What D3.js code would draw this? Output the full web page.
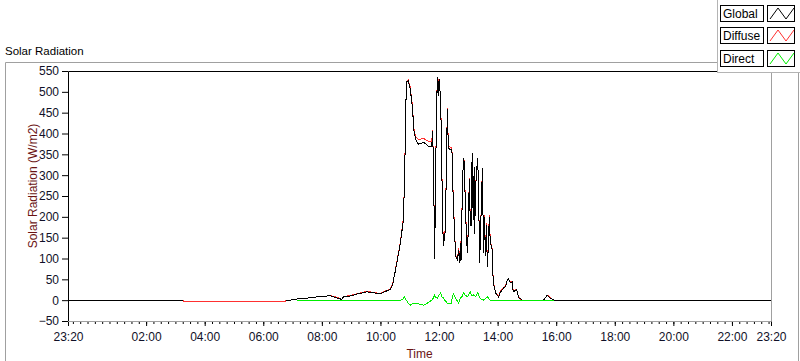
<!DOCTYPE html>
<html>
<head>
<meta charset="utf-8">
<script src="https://cdn.jsdelivr.net/npm/d3@7"></script>
<style>
  body { margin: 0; background: #fff; }
  text { font-family: "Liberation Sans", Arial, sans-serif; }
</style>
</head>
<body>
<div id="chart"></div>
<script>
// time stamps shared by Global and Diffuse ("day hour:minute")
var times = [
  "01 23:20","02 03:16","02 03:17","02 06:46","02 06:47","02 06:55","02 07:02","02 07:30","02 07:43","02 07:51",
  "02 08:11","02 08:13","02 08:17","02 08:24","02 08:38","02 08:40","02 08:44","02 08:58","02 09:13","02 09:33",
  "02 10:00","02 10:14","02 10:20","02 10:25","02 10:27","02 10:31","02 10:41","02 10:47","02 10:49","02 10:51",
  "02 10:53","02 10:57","02 11:01","02 11:06","02 11:08","02 11:12","02 11:18","02 11:28","02 11:38","02 11:45",
  "02 11:47","02 11:49","02 11:51","02 11:55","02 11:57","02 11:58","02 11:59","02 12:00","02 12:01","02 12:03",
  "02 12:05","02 12:07","02 12:09","02 12:13","02 12:17","02 12:19","02 12:21","02 12:25","02 12:27","02 12:29",
  "02 12:34","02 12:38","02 12:40","02 12:42","02 12:44","02 12:45","02 12:46","02 12:48","02 12:50","02 12:52","02 12:54","02 12:58",
  "02 13:00","02 13:02","02 13:03","02 13:04","02 13:06","02 13:07","02 13:08","02 13:10","02 13:12","02 13:13","02 13:15","02 13:19","02 13:21","02 13:23",
  "02 13:25","02 13:27","02 13:29","02 13:31","02 13:33","02 13:35","02 13:37","02 13:39","02 13:41","02 13:43","02 13:45","02 13:49","02 13:51","02 13:56",
  "02 14:02","02 14:06","02 14:10","02 14:12","02 14:16","02 14:20","02 14:22","02 14:26","02 14:30","02 14:32",
  "02 14:39","02 14:43","02 14:51","02 15:34","02 15:42","02 15:48","02 15:55","02 23:20"
];
var globalValues = [
  0, 0, null, null, 0, 0, 2, 5, 7, 8,
  10, 12, 11, 8, 3, 0, 8, 10, 15, 20,
  15, 23, 25, 37, 50, 73, 138, 193, 273, 386,
  524, 526, 507, 458, 410, 386, 374, 379, 370, 369,
  405, 297, 100, 476, 535, 495, 490, 528, 531, 475,
  394, 201, 129, 169, 458, 369, 362, 362, 350, 242,
  105, 97, 121, 89, 138, 95, 150, 273, 342, 330, 217, 113,
  169, 290, 240, 186, 177, 300, 354, 193, 320, 160, 273, 342, 273, 89,
  153, 250, 317, 113, 200, 105, 180, 80, 129, 200, 138, 121, 42, 17,
  8, 20, 25, 30, 32, 49, 51, 42, 44, 20,
  25, 6, 0, 0, 12, 5, 0, 0
];
var diffuseValues = [
  0, 0, -2, -2, 0, 0, 2, 5, 7, 8,
  10, 12, 11, 9, 4, 1, 9, 11, 16, 21,
  16, 24, 26, 40, 52, 75, 140, 196, 276, 390,
  522, 528, 512, 462, 414, 392, 385, 388, 382, 380,
  408, 300, 104, 480, 533, 498, 494, 530, 529, 478,
  398, 205, 133, 173, 462, 375, 368, 366, 352, 246,
  108, 100, 125, 93, 142, 99, 154, 276, 340, 333, 220, 117,
  172, 293, 244, 190, 180, 304, 352, 197, 318, 164, 276, 340, 276, 93,
  156, 254, 315, 117, 204, 108, 184, 84, 132, 204, 141, 124, 45, 18,
  9, 22, 27, 30, 34, 50, 50, 44, 45, 22,
  26, 7, -2, 0, 12, 6, 0, 0
];

var directTimes = [
  "02 07:10","02 10:41","02 10:46","02 10:49","02 10:53","02 10:57","02 11:01","02 11:08","02 11:18","02 11:28",
  "02 11:38","02 11:45","02 11:49","02 11:51","02 11:53","02 11:57","02 12:00","02 12:03","02 12:06","02 12:09",
  "02 12:13","02 12:17","02 12:25","02 12:29","02 12:34","02 12:40","02 12:44","02 12:48","02 12:50","02 12:54",
  "02 12:58","02 13:02","02 13:04","02 13:07","02 13:10","02 13:15","02 13:19","02 13:25","02 13:31","02 13:39",
  "02 13:45","02 14:00","02 15:55"
];
var directValues = [
  0, 0, 2, 8, 0, -8, -12, -7, -9, -12,
  -6, 0, 6, 13, 6, 5, 12, 17, 8, 5,
  -2, -7, -7, 15, 5, -7, 5, 10, 17, 12,
  8, 15, 20, 11, 13, 9, 18, 3, 0, 8,
  0, 0, 0
];

var yTicks = [-50, 0, 50, 100, 150, 200, 250, 300, 350, 400, 450, 500, 550];
var xLabelTimes = ["01 23:20","02 02:00","02 04:00","02 06:00","02 08:00","02 10:00","02 12:00",
                   "02 14:00","02 16:00","02 18:00","02 20:00","02 22:00","02 23:20"];
var seriesNames = ["Global", "Diffuse", "Direct"];
var seriesColors = ["#000000", "#ff3030", "#00ee00"];

var width = 800, height = 361;
var plotLeft = 68, plotRight = 771, plotTop = 71, plotBottom = 321;

var parseTime = d3.timeParse("%d %H:%M");

var svg = d3.select("#chart")
    .append("svg")
    .attr("width", width)
    .attr("height", height);

var x = d3.scaleTime()
    .domain([parseTime("01 23:20"), parseTime("02 23:20")])
    .range([plotLeft, plotRight]);

var y = d3.scaleLinear()
    .domain([-50, 550])
    .range([plotBottom, plotTop]);

// outer frame
svg.append("path")
    .attr("d", "M5.5,361V62.5H717")
    .attr("fill", "none")
    .attr("stroke", "#a0a0a0");
svg.append("path")
    .attr("d", "M798.5,72V361")
    .attr("fill", "none")
    .attr("stroke", "#a0a0a0");

svg.append("text")
    .attr("x", 5)
    .attr("y", 55)
    .style("font-size", "11.5px")
    .text("Solar Radiation");

// Y axis
var yAxis = svg.append("g")
    .attr("transform", "translate(" + plotLeft + ",0)")
    .call(d3.axisLeft(y).tickValues(yTicks).tickSize(6).tickPadding(3));
yAxis.select(".domain").remove();
yAxis.selectAll("text").style("font-size", "12px").attr("fill", "#101028");

// X axis: minor then major ticks
var xMinor = svg.append("g")
    .attr("transform", "translate(0," + plotBottom + ")")
    .call(d3.axisBottom(x).ticks(d3.timeMinute.every(15)).tickSize(3).tickFormat(""));
xMinor.select(".domain").remove();

var xAxis = svg.append("g")
    .attr("transform", "translate(0," + plotBottom + ")")
    .call(d3.axisBottom(x)
        .tickValues(xLabelTimes.map(parseTime))
        .tickSize(5)
        .tickPadding(6)
        .tickFormat(d3.timeFormat("%H:%M")));
xAxis.select(".domain").remove();
xAxis.selectAll("text").style("font-size", "12px").attr("fill", "#101028");

svg.append("text")
    .attr("transform", "translate(37,186)rotate(-90)")
    .attr("text-anchor", "middle")
    .style("font-size", "12px")
    .attr("fill", "#6b1414")
    .text("Solar Radiation (W/m2)");

svg.append("text")
    .attr("x", (plotLeft + plotRight) / 2)
    .attr("y", 358)
    .attr("text-anchor", "middle")
    .style("font-size", "12px")
    .attr("fill", "#6b1414")
    .text("Time");

// plot
svg.append("clipPath")
    .attr("id", "plotClip")
    .append("rect")
    .attr("x", plotLeft)
    .attr("y", plotTop)
    .attr("width", plotRight - plotLeft)
    .attr("height", plotBottom - plotTop);

var line = d3.line()
    .defined(function (d) { return d.v != null; })
    .x(function (d) { return x(d.t); })
    .y(function (d) { return y(d.v); });

var globalData = times.map(function (t, i) { return { t: parseTime(t), v: globalValues[i] }; });
var diffuseData = times.map(function (t, i) { return { t: parseTime(t), v: diffuseValues[i] }; });
var directData = directTimes.map(function (t, i) { return { t: parseTime(t), v: directValues[i] }; });

var plot = svg.append("g").attr("clip-path", "url(#plotClip)");

[[diffuseData, 1], [globalData, 0], [directData, 2]].forEach(function (s) {
    plot.append("path")
        .datum(s[0])
        .attr("d", line)
        .attr("fill", "none")
        .attr("stroke", seriesColors[s[1]])
        .attr("stroke-width", 1)
        .attr("shape-rendering", "crispEdges");
});

// plot border
svg.append("path")
    .attr("d", "M" + (plotLeft + 0.5) + "," + plotBottom + "V" + (plotTop + 0.5) + "H" + plotRight)
    .attr("fill", "none")
    .attr("stroke", "#000");
svg.append("path")
    .attr("d", "M" + (plotRight + 0.5) + "," + plotTop + "V" + (plotBottom + 0.5) + "H" + plotLeft)
    .attr("fill", "none")
    .attr("stroke", "#a0a0a0");

// legend
var legend = svg.append("g");
legend.append("rect")
    .attr("x", 717.5)
    .attr("y", -1)
    .attr("width", 84)
    .attr("height", 73.5)
    .attr("fill", "#fff")
    .attr("stroke", "#b4b4b4");

seriesNames.forEach(function (name, i) {
    var ty0 = Math.round(4.5 + i * 22.7);
    legend.append("rect")
        .attr("x", 720.5).attr("y", ty0 + 0.5)
        .attr("width", 43).attr("height", 16)
        .attr("fill", "#fff").attr("stroke", "#000");
    legend.append("text")
        .attr("x", 723).attr("y", ty0 + 13)
        .style("font-size", "12px")
        .text(name);
    legend.append("rect")
        .attr("x", 767.5).attr("y", ty0 + 0.5)
        .attr("width", 27).attr("height", 16)
        .attr("fill", "#fff").attr("stroke", "#000");
    legend.append("polyline")
        .attr("points", [[770, ty0 + 14], [778, ty0 + 3], [786, ty0 + 14], [794, ty0 + 3]].join(" "))
        .attr("fill", "none")
        .attr("stroke", seriesColors[i]);
});
</script>
</body>
</html>
